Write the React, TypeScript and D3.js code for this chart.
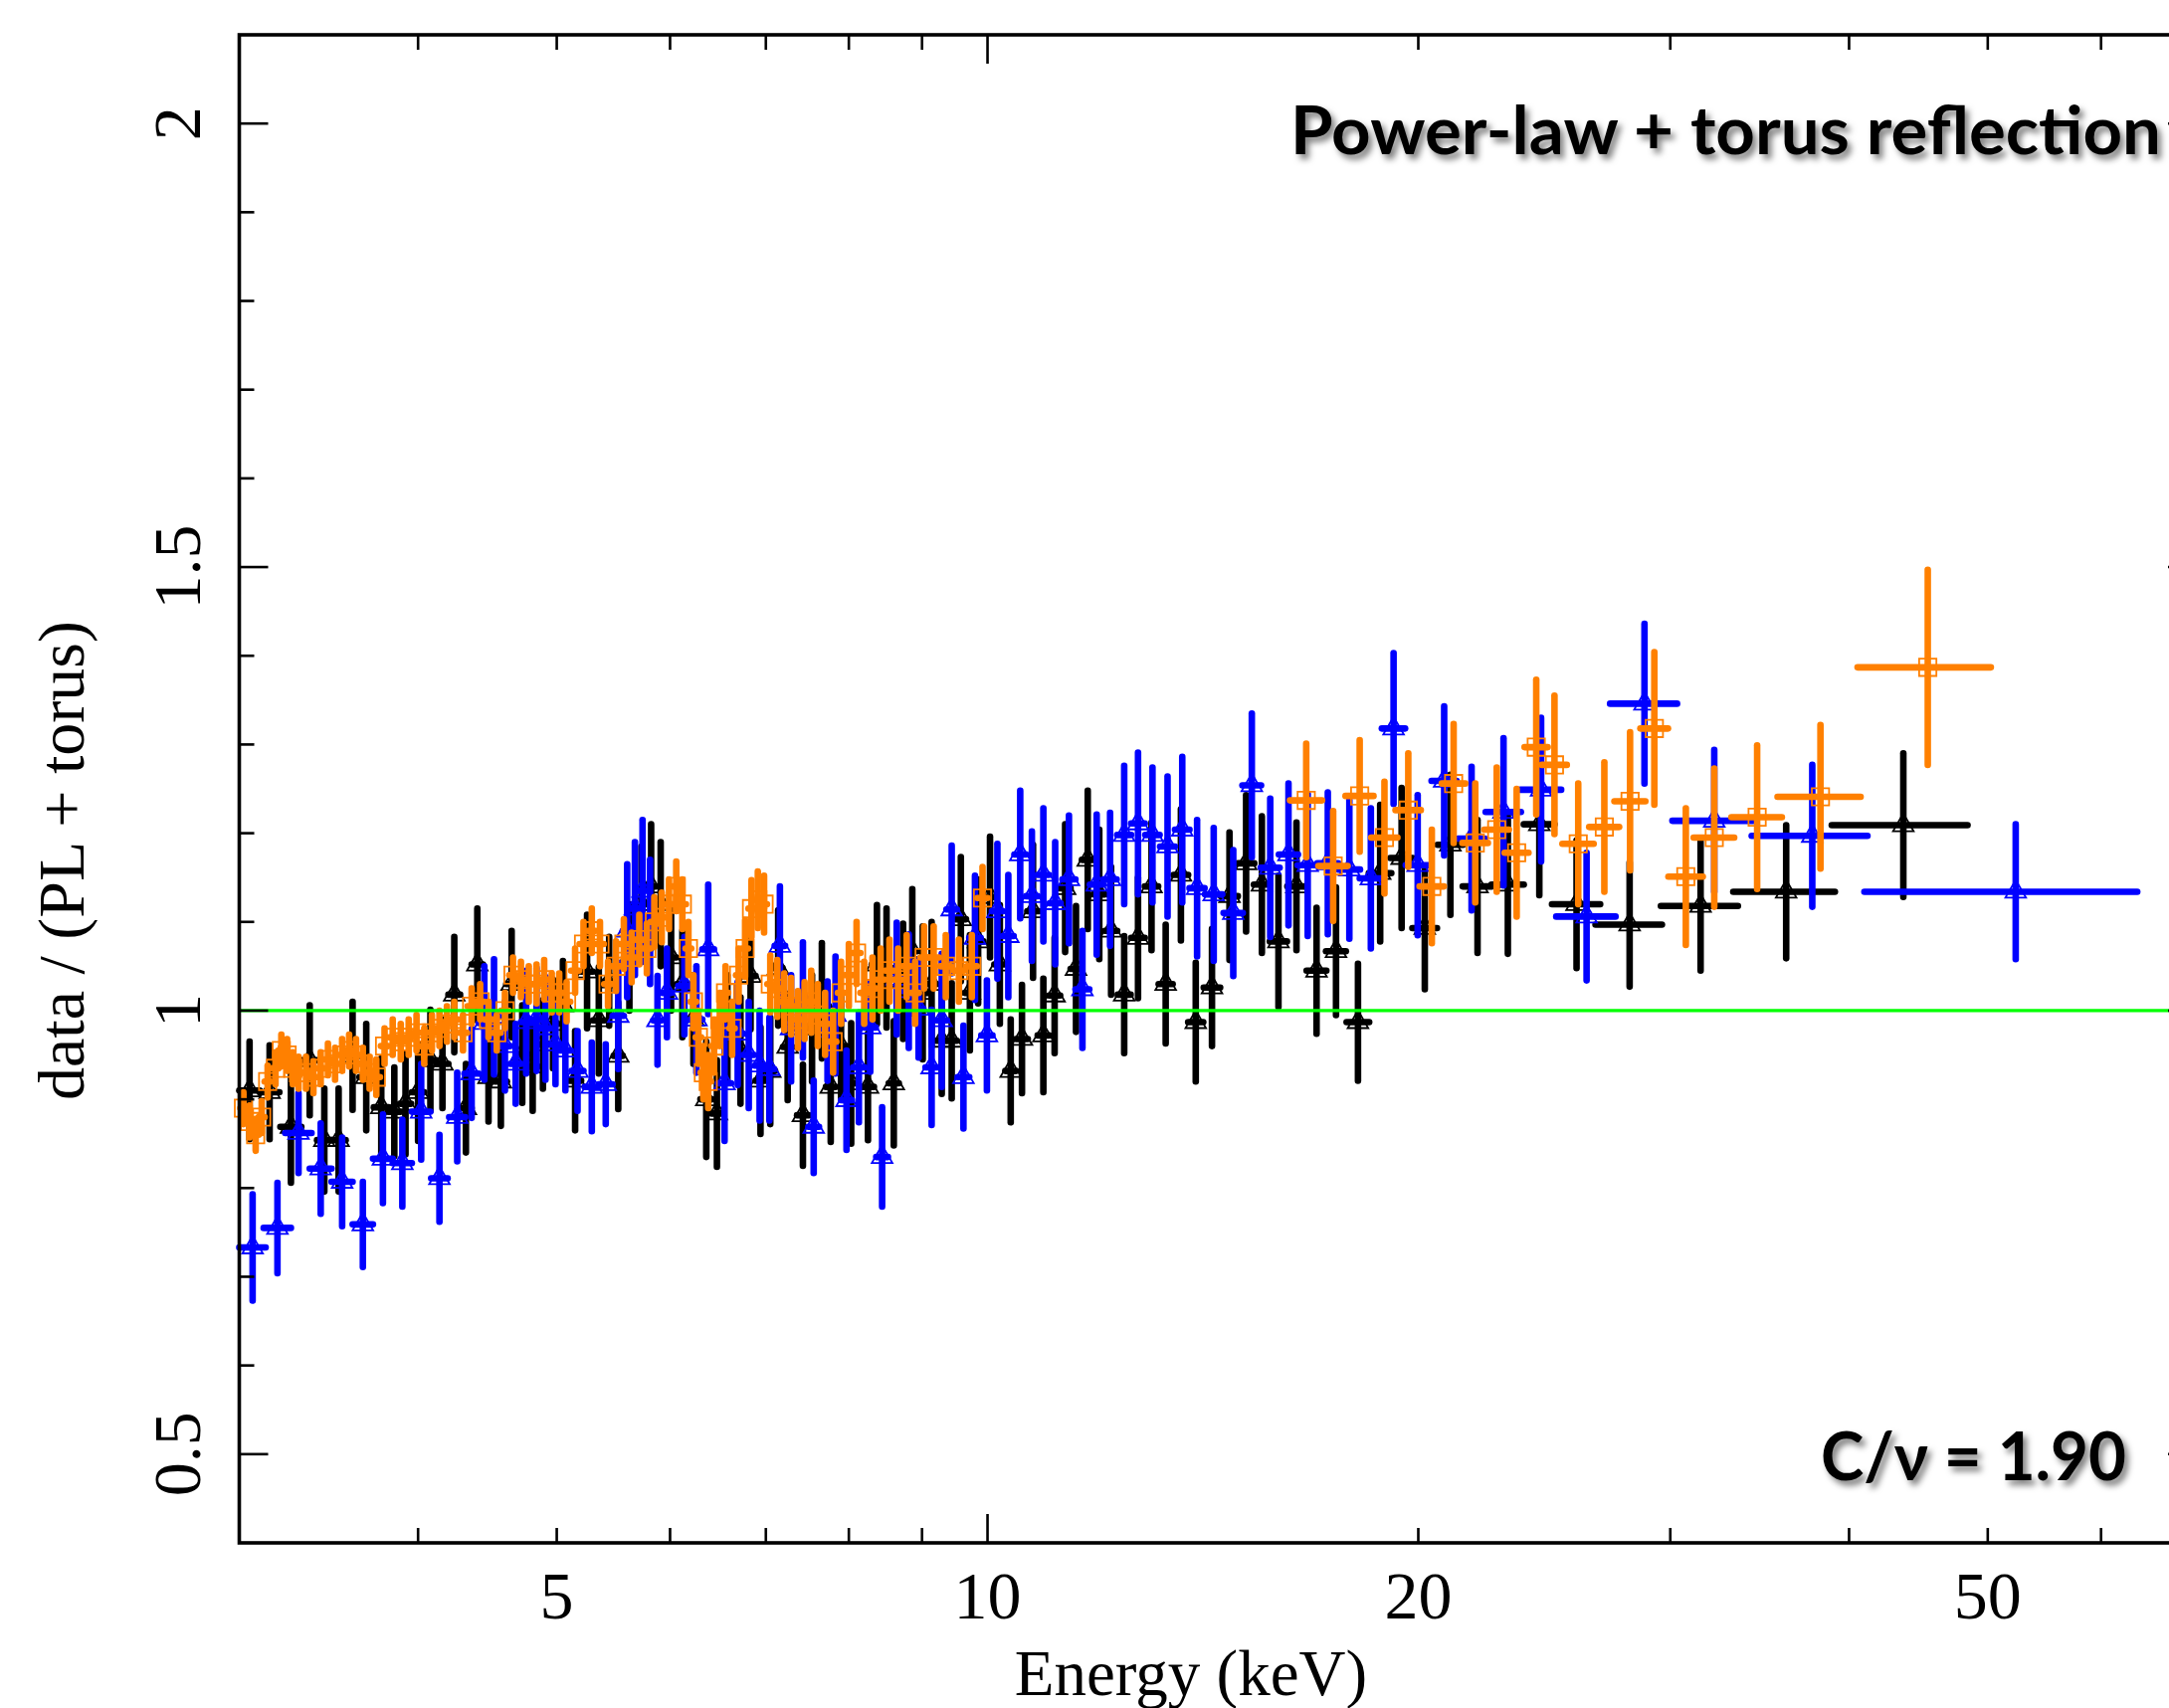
import React from "react";
import * as d3 from "d3";

// ---------------- axis definitions ----------------
const xDomain: [number, number] = [3, 70];
const yDomain: [number, number] = [0.4, 2.1];
const xMajorTicks = [10];
const xMinorTicks = [4, 5, 6, 7, 8, 9, 20, 30, 40, 50, 60];
const xTickLabels = [5, 10, 20, 50];
const yMajorTicks = [0.5, 1, 1.5, 2];
const yMinorTicks = [0.6, 0.7, 0.8, 0.9, 1.1, 1.2, 1.3, 1.4, 1.6, 1.7, 1.8, 1.9];
const yTickLabels = ["0.5", "1", "1.5", "2"];
const modelLevel = 1;

// ---------------- series: black (triangles) ----------------
const blackE = [
  3.05, 3.15, 3.26, 3.36, 3.44, 3.52, 3.6, 3.68, 3.77, 3.85,
  3.92, 4.0, 4.08, 4.16, 4.24, 4.32, 4.4, 4.48, 4.57, 4.65,
  4.73, 4.81, 4.89, 4.97, 5.05, 5.15, 5.25, 5.35, 5.44, 5.52,
  5.62, 5.73, 5.82, 5.91, 6.01, 6.12, 6.23, 6.36, 6.47, 6.58,
  6.72, 6.83, 6.94, 7.05, 7.14, 7.25, 7.43, 7.54, 7.66, 7.77,
  7.9, 8.03, 8.25, 8.37, 8.5, 8.6, 8.73, 8.86, 9.01, 9.14,
  9.29, 9.44, 9.58, 9.72, 9.85, 10.04, 10.2, 10.38, 10.57, 10.76,
  10.94, 11.14, 11.33, 11.53, 11.75, 11.97, 12.2, 12.46, 12.74, 13.02,
  13.32, 13.65, 13.98, 14.35, 14.76, 15.16, 15.55, 15.97, 16.44, 16.98,
  17.52, 18.15, 18.81, 19.47, 20.21, 21.06, 22.0, 23.1, 24.3, 25.8,
  28.1, 31.5, 36.15, 43.65,
];
const blackDE = [
  0.05, 0.05, 0.055, 0.045, 0.04, 0.04, 0.04, 0.04, 0.045, 0.04,
  0.035, 0.04, 0.04, 0.04, 0.04, 0.04, 0.04, 0.04, 0.045, 0.04,
  0.04, 0.04, 0.04, 0.04, 0.04, 0.05, 0.05, 0.05, 0.045, 0.04,
  0.05, 0.05, 0.045, 0.045, 0.05, 0.055, 0.055, 0.06, 0.055, 0.055,
  0.06, 0.055, 0.055, 0.055, 0.05, 0.055, 0.07, 0.06, 0.06, 0.06,
  0.065, 0.065, 0.08, 0.07, 0.07, 0.07, 0.07, 0.07, 0.08, 0.075,
  0.08, 0.08, 0.08, 0.08, 0.085, 0.09, 0.09, 0.09, 0.1, 0.1,
  0.1, 0.1, 0.1, 0.1, 0.11, 0.11, 0.12, 0.13, 0.14, 0.14,
  0.15, 0.16, 0.17, 0.19, 0.2, 0.2, 0.2, 0.22, 0.24, 0.27,
  0.28, 0.33, 0.34, 0.35, 0.4, 0.43, 0.52, 0.6, 0.6, 1.0,
  1.5, 1.95, 2.95, 4.75,
];
const blackRatio = [
  0.91, 0.908, 0.869, 0.944, 0.854, 0.854, 0.949, 0.925, 0.891, 0.886,
  0.895, 0.908, 0.944, 0.94, 1.018, 0.89, 1.052, 0.925, 0.92, 1.03,
  0.951, 0.937, 0.962, 0.985, 1.006, 0.921, 1.044, 0.989, 1.033, 0.949,
  1.06, 1.12, 1.14, 1.12, 1.06, 1.03, 0.99, 0.9, 0.884, 0.98,
  0.955, 1.039, 0.921, 0.932, 1.048, 0.959, 0.882, 0.98, 1.011, 0.914,
  0.96, 0.918, 0.914, 1.052, 1.048, 0.918, 1.033, 1.067, 1.02, 1.03,
  0.966, 0.966, 1.103, 1.02, 1.078, 1.128, 1.052, 0.932, 0.968, 1.112,
  0.972, 1.017, 1.138, 1.047, 1.17, 1.131, 1.09, 1.018, 1.082, 1.14,
  1.03, 1.153, 0.987, 1.026, 1.129, 1.166, 1.142, 1.078, 1.14, 1.045,
  1.067, 0.987, 1.155, 1.172, 1.093, 1.187, 1.14, 1.142, 1.21, 1.12,
  1.097, 1.118, 1.134, 1.209,
];
const blackErr = [
  0.055, 0.053, 0.063, 0.062, 0.058, 0.058, 0.061, 0.06, 0.055, 0.05,
  0.057, 0.055, 0.057, 0.05, 0.065, 0.05, 0.063, 0.05, 0.05, 0.06,
  0.055, 0.05, 0.05, 0.05, 0.05, 0.056, 0.064, 0.06, 0.05, 0.06,
  0.06, 0.065, 0.07, 0.07, 0.06, 0.06, 0.05, 0.065, 0.06, 0.06,
  0.06, 0.06, 0.06, 0.06, 0.065, 0.06, 0.057, 0.06, 0.065, 0.062,
  0.06, 0.068, 0.06, 0.067, 0.067, 0.07, 0.065, 0.07, 0.075, 0.07,
  0.06, 0.065, 0.07, 0.065, 0.07, 0.068, 0.067, 0.058, 0.061, 0.075,
  0.064, 0.065, 0.072, 0.071, 0.078, 0.073, 0.072, 0.066, 0.068, 0.072,
  0.067, 0.074, 0.067, 0.066, 0.072, 0.077, 0.077, 0.074, 0.072, 0.071,
  0.072, 0.066, 0.077, 0.079, 0.069, 0.079, 0.075, 0.078, 0.08, 0.072,
  0.07, 0.073, 0.075, 0.081,
];

// ---------------- series: blue (triangles) ----------------
const blueE = [
  3.065, 3.19, 3.3, 3.42, 3.54, 3.66, 3.78, 3.9, 4.02, 4.14,
  4.26, 4.36, 4.45, 4.52, 4.6, 4.68, 4.76, 4.84, 4.91, 4.99,
  5.07, 5.17, 5.29, 5.41, 5.52, 5.6, 5.67, 5.74, 5.81, 5.88,
  5.97, 6.14, 6.26, 6.38, 6.55, 6.69, 6.81, 6.93, 7.04, 7.16,
  7.29, 7.43, 7.56, 7.73, 7.83, 7.97, 8.13, 8.28, 8.44, 8.64,
  8.81, 8.95, 9.14, 9.29, 9.44, 9.62, 9.8, 9.99, 10.16, 10.34,
  10.54, 10.74, 10.94, 11.15, 11.4, 11.65, 11.92, 12.18, 12.46, 12.74,
  13.04, 13.36, 13.68, 14.01, 14.39, 14.85, 15.3, 15.76, 16.23, 16.74,
  17.29, 17.9, 18.53, 19.22, 19.98, 20.85, 21.79, 22.94, 24.37, 26.22,
  28.78, 32.2, 37.7, 52.3,
];
const blueDE = [
  0.065, 0.07, 0.07, 0.06, 0.06, 0.06, 0.06, 0.06, 0.06, 0.055,
  0.055, 0.05, 0.04, 0.04, 0.04, 0.04, 0.04, 0.04, 0.04, 0.04,
  0.045, 0.05, 0.06, 0.06, 0.05, 0.04, 0.04, 0.04, 0.04, 0.04,
  0.045, 0.06, 0.06, 0.06, 0.07, 0.06, 0.06, 0.055, 0.055, 0.06,
  0.065, 0.065, 0.065, 0.07, 0.05, 0.07, 0.075, 0.075, 0.08, 0.09,
  0.08, 0.07, 0.09, 0.08, 0.08, 0.09, 0.09, 0.09, 0.09, 0.09,
  0.1, 0.1, 0.1, 0.1, 0.12, 0.13, 0.13, 0.13, 0.14, 0.14,
  0.15, 0.16, 0.16, 0.17, 0.2, 0.23, 0.23, 0.24, 0.25, 0.27,
  0.29, 0.31, 0.33, 0.36, 0.38, 0.42, 0.47, 0.65, 0.8, 1.25,
  1.55, 2.1, 3.5, 11.3,
];
const blueRatio = [
  0.733, 0.755, 0.862, 0.822, 0.807, 0.759, 0.833, 0.828, 0.886, 0.811,
  0.88, 0.929, 0.986, 0.993, 0.96, 0.94, 0.987, 0.99, 0.98, 0.962,
  0.955, 0.932, 0.914, 0.917, 0.994, 1.09, 1.115, 1.135, 1.1, 0.989,
  1.02, 1.028, 0.99, 1.069, 0.918, 0.974, 0.95, 0.938, 0.934, 1.073,
  0.98, 1.012, 0.869, 0.977, 0.995, 0.899, 0.936, 0.981, 0.835, 1.036,
  1.022, 1.002, 0.936, 0.989, 1.114, 0.925, 1.082, 0.972, 1.112, 1.084,
  1.176, 1.129, 1.153, 1.121, 1.148, 1.024, 1.142, 1.148, 1.198, 1.211,
  1.198, 1.185, 1.204, 1.138, 1.131, 1.11, 1.254, 1.161, 1.176, 1.164,
  1.166, 1.159, 1.149, 1.318, 1.164, 1.259, 1.194, 1.224, 1.249, 1.106,
  1.346, 1.214, 1.197, 1.134,
];
const blueErr = [
  0.06, 0.051, 0.045, 0.051, 0.05, 0.048, 0.05, 0.049, 0.054, 0.049,
  0.05, 0.05, 0.064, 0.065, 0.05, 0.045, 0.058, 0.058, 0.058, 0.045,
  0.045, 0.045, 0.05, 0.045, 0.06, 0.075, 0.075, 0.08, 0.07, 0.05,
  0.05, 0.055, 0.06, 0.073, 0.065, 0.058, 0.06, 0.062, 0.058, 0.067,
  0.06, 0.065, 0.052, 0.056, 0.066, 0.056, 0.062, 0.05, 0.056, 0.063,
  0.064, 0.055, 0.065, 0.075, 0.072, 0.058, 0.07, 0.062, 0.076, 0.069,
  0.072, 0.073, 0.075, 0.069, 0.072, 0.066, 0.079, 0.075, 0.078, 0.08,
  0.076, 0.079, 0.082, 0.077, 0.075, 0.071, 0.081, 0.078, 0.08, 0.08,
  0.08, 0.078, 0.079, 0.085, 0.079, 0.084, 0.081, 0.083, 0.081, 0.072,
  0.09, 0.08, 0.08, 0.076,
];

// ---------------- series: orange (squares) ----------------
const orangeE = [
  3.02, 3.05, 3.08, 3.11, 3.14, 3.18, 3.21, 3.24, 3.27, 3.3,
  3.34, 3.38, 3.42, 3.46, 3.5, 3.54, 3.58, 3.62, 3.66, 3.7,
  3.74, 3.79, 3.84, 3.89, 3.94, 3.99, 4.04, 4.09, 4.14, 4.19,
  4.24, 4.3, 4.36, 4.42, 4.48, 4.54, 4.6, 4.66, 4.72, 4.78,
  4.84, 4.9, 4.96, 5.02, 5.08, 5.15, 5.22, 5.29, 5.36, 5.43,
  5.5, 5.57, 5.64, 5.71, 5.78, 5.85, 5.92, 5.99, 6.06, 6.12,
  6.18, 6.23, 6.28, 6.33, 6.38, 6.44, 6.5, 6.56, 6.63, 6.7,
  6.77, 6.84, 6.91, 6.98, 7.05, 7.13, 7.21, 7.29, 7.37, 7.45,
  7.53, 7.61, 7.7, 7.8, 7.9, 8.0, 8.1, 8.2, 8.31, 8.42,
  8.54, 8.66, 8.78, 8.9, 9.03, 9.17, 9.35, 9.55, 9.75, 9.92,
  16.7, 17.44, 18.2, 18.94, 19.68, 20.44, 21.17, 21.92, 22.69, 23.43,
  24.18, 24.9, 25.87, 26.98, 28.12, 29.24, 30.76, 32.2, 34.5, 38.2,
  45.4,
];
const orangeDE = [
  0.015, 0.015, 0.015, 0.015, 0.015, 0.015, 0.015, 0.015, 0.015, 0.015,
  0.02, 0.02, 0.02, 0.02, 0.02, 0.02, 0.02, 0.02, 0.02, 0.02,
  0.022, 0.022, 0.022, 0.022, 0.025, 0.025, 0.025, 0.025, 0.025, 0.025,
  0.028, 0.028, 0.028, 0.028, 0.028, 0.028, 0.028, 0.028, 0.028, 0.028,
  0.03, 0.03, 0.03, 0.03, 0.03, 0.033, 0.033, 0.033, 0.033, 0.033,
  0.035, 0.035, 0.035, 0.035, 0.035, 0.035, 0.035, 0.035, 0.035, 0.035,
  0.028, 0.028, 0.028, 0.028, 0.028, 0.028, 0.028, 0.028, 0.028, 0.028,
  0.033, 0.033, 0.033, 0.033, 0.033, 0.038, 0.038, 0.038, 0.038, 0.038,
  0.04, 0.04, 0.04, 0.04, 0.04, 0.05, 0.05, 0.05, 0.05, 0.05,
  0.055, 0.055, 0.055, 0.055, 0.055, 0.08, 0.08, 0.08, 0.08, 0.08,
  0.43, 0.41, 0.41, 0.4, 0.4, 0.4, 0.4, 0.45, 0.45, 0.45,
  0.45, 0.5, 0.65, 0.65, 0.7, 0.65, 0.85, 1.05, 1.4, 2.55,
  4.85,
];
const orangeRatio = [
  0.89, 0.875, 0.86, 0.88, 0.92, 0.935, 0.955, 0.95, 0.935, 0.93,
  0.93, 0.925, 0.935, 0.945, 0.94, 0.95, 0.955, 0.95, 0.94, 0.93,
  0.925, 0.96, 0.97, 0.965, 0.97, 0.975, 0.96, 0.975, 0.98, 0.985,
  0.99, 0.975, 1.005, 1.01, 0.99, 0.975, 1.0, 1.04, 1.035, 1.03,
  1.03, 1.035, 1.02, 1.02, 1.01, 1.045, 1.075, 1.09, 1.075, 1.03,
  1.05, 1.075, 1.06, 1.08, 1.07, 1.1, 1.105, 1.12, 1.14, 1.12,
  1.07, 1.01, 0.97, 0.93, 0.92, 0.96, 0.99, 1.02, 0.98, 1.04,
  1.07, 1.115, 1.125, 1.12, 1.03, 1.025, 1.01, 1.005, 0.99, 1.0,
  1.01, 0.995, 0.985, 0.965, 1.02, 1.04, 1.065, 1.02, 1.025, 1.035,
  1.045, 1.035, 1.05, 1.02, 1.06, 1.06, 1.05, 1.045, 1.05, 1.127,
  1.237, 1.163, 1.242, 1.195, 1.226, 1.14, 1.256, 1.189, 1.204, 1.178,
  1.297, 1.277, 1.188, 1.207, 1.236, 1.318, 1.151, 1.195, 1.218, 1.241,
  1.387,
];
const orangeErr = [
  0.018, 0.018, 0.018, 0.018, 0.018, 0.018, 0.018, 0.018, 0.018, 0.018,
  0.018, 0.018, 0.018, 0.018, 0.018, 0.018, 0.018, 0.018, 0.018, 0.018,
  0.02, 0.02, 0.02, 0.02, 0.02, 0.02, 0.02, 0.02, 0.02, 0.02,
  0.02, 0.02, 0.02, 0.02, 0.02, 0.02, 0.02, 0.02, 0.02, 0.02,
  0.022, 0.022, 0.022, 0.022, 0.022, 0.025, 0.025, 0.025, 0.025, 0.025,
  0.028, 0.028, 0.028, 0.028, 0.028, 0.028, 0.028, 0.028, 0.028, 0.028,
  0.03, 0.03, 0.03, 0.03, 0.03, 0.03, 0.03, 0.03, 0.03, 0.03,
  0.032, 0.032, 0.032, 0.032, 0.032, 0.032, 0.032, 0.032, 0.032, 0.032,
  0.035, 0.035, 0.035, 0.035, 0.035, 0.035, 0.035, 0.035, 0.035, 0.035,
  0.035, 0.035, 0.035, 0.035, 0.035, 0.035, 0.035, 0.035, 0.035, 0.035,
  0.064, 0.062, 0.063, 0.063, 0.064, 0.064, 0.067, 0.067, 0.07, 0.072,
  0.076, 0.078, 0.068, 0.073, 0.078, 0.086, 0.077, 0.078, 0.081, 0.081,
  0.11,
];

// ---------------- layout & style ----------------
const W = 2180;
const H = 1717;
const PL = 240.5;
const PR = 2208;
const PT = 35;
const PB = 1551;
const MAJOR = 29;
const MINOR = 15;
const BAR_W = 6.6;
const SERIF = "'Liberation Serif', 'Times New Roman', Times, serif";
const SANS = "Lato, 'Open Sans', 'Noto Sans', sans-serif";

type Series = {
  key: string;
  color: string;
  marker: "triangle" | "square";
  E: number[];
  dE: number[];
  r: number[];
  err: number[];
};

const seriesList: Series[] = [
  { key: "black", color: "#000000", marker: "triangle", E: blackE, dE: blackDE, r: blackRatio, err: blackErr },
  { key: "blue", color: "#0000ff", marker: "triangle", E: blueE, dE: blueDE, r: blueRatio, err: blueErr },
  { key: "orange", color: "#ff8000", marker: "square", E: orangeE, dE: orangeDE, r: orangeRatio, err: orangeErr },
];

export default function App() {
  const x = d3.scaleLog().domain(xDomain).range([PL, PR]);
  const y = d3.scaleLinear().domain(yDomain).range([PB, PT]);
  const triPath = d3.symbol(d3.symbolTriangle, 185)() as string;
  const sqPath = d3.symbol(d3.symbolSquare, 300)() as string;

  return (
    <svg
      width={W}
      height={H}
      viewBox={`0 0 ${W} ${H}`}
      style={{ position: "fixed", left: 0, top: 0, background: "#ffffff" }}
    >
      <defs>
        <filter id="txtShadow" x="-5%" y="-30%" width="115%" height="170%">
          <feDropShadow dx="4" dy="5" stdDeviation="3" floodColor="#000000" floodOpacity="0.5" />
        </filter>
      </defs>
      <rect x={0} y={0} width={W} height={H} fill="#ffffff" />

      {/* data */}
      {seriesList.map((s) => {
        const n = Math.min(s.E.length, s.dE.length, s.r.length, s.err.length);
        const idx = d3.range(n);
        return (
          <g key={s.key}>
            {idx.map((i) => {
              const cx = x(s.E[i]);
              const cy = y(s.r[i]);
              return (
                <g key={i}>
                  <line
                    x1={x(s.E[i] - s.dE[i])}
                    x2={x(s.E[i] + s.dE[i])}
                    y1={cy}
                    y2={cy}
                    stroke={s.color}
                    strokeWidth={BAR_W}
                    strokeLinecap="round"
                  />
                  <line
                    x1={cx}
                    x2={cx}
                    y1={y(s.r[i] - s.err[i])}
                    y2={y(s.r[i] + s.err[i])}
                    stroke={s.color}
                    strokeWidth={BAR_W}
                    strokeLinecap="round"
                  />
                  <path
                    d={s.marker === "triangle" ? triPath : sqPath}
                    transform={`translate(${cx},${cy})`}
                    fill="none"
                    stroke={s.color}
                    strokeWidth={1.8}
                  />
                </g>
              );
            })}
          </g>
        );
      })}

      {/* model line */}
      <line x1={PL} x2={PR} y1={y(modelLevel)} y2={y(modelLevel)} stroke="#00ff00" strokeWidth={3.3} />

      {/* ticks */}
      <g stroke="#000" strokeWidth={2.6}>
        {xMajorTicks.map((t) => (
          <g key={"xM" + t}>
            <line x1={x(t)} x2={x(t)} y1={PB} y2={PB - MAJOR} />
            <line x1={x(t)} x2={x(t)} y1={PT} y2={PT + MAJOR} />
          </g>
        ))}
        {xMinorTicks.map((t) => (
          <g key={"xm" + t}>
            <line x1={x(t)} x2={x(t)} y1={PB} y2={PB - MINOR} />
            <line x1={x(t)} x2={x(t)} y1={PT} y2={PT + MINOR} />
          </g>
        ))}
        {yMajorTicks.map((t) => (
          <g key={"yM" + t}>
            <line x1={PL} x2={PL + MAJOR} y1={y(t)} y2={y(t)} />
            <line x1={PR} x2={PR - MAJOR} y1={y(t)} y2={y(t)} />
          </g>
        ))}
        {yMinorTicks.map((t) => (
          <g key={"ym" + t}>
            <line x1={PL} x2={PL + MINOR} y1={y(t)} y2={y(t)} />
            <line x1={PR} x2={PR - MINOR} y1={y(t)} y2={y(t)} />
          </g>
        ))}
      </g>

      {/* frame */}
      <rect x={PL} y={PT} width={PR - PL} height={PB - PT} fill="none" stroke="#000" strokeWidth={3.6} />

      {/* tick labels */}
      <g fontFamily={SERIF} fontSize={68} fill="#000">
        {xTickLabels.map((t) => (
          <text key={"xl" + t} x={x(t)} y={1627} textAnchor="middle">
            {t}
          </text>
        ))}
        {yMajorTicks.map((t, i) => (
          <text
            key={"yl" + t}
            transform={`translate(201,${y(t)}) rotate(-90)`}
            textAnchor="middle"
          >
            {yTickLabels[i]}
          </text>
        ))}
      </g>

      {/* axis titles */}
      <text x={1197} y={1704} textAnchor="middle" fontFamily={SERIF} fontSize={65} fill="#000">
        Energy (keV)
      </text>
      <text
        transform={`translate(84,865) rotate(-90)`}
        textAnchor="middle"
        fontFamily={SERIF}
        fontSize={66}
        fill="#000"
      >
        data / (PL + torus)
      </text>

      {/* annotations */}
      <text
        x={1297}
        y={155}
        fontFamily={SANS}
        fontWeight={700}
        fontSize={66}
        textLength={875}
        lengthAdjust="spacingAndGlyphs"
        fill="#000"
        filter="url(#txtShadow)"
      >
        Power-law + torus reflection
      </text>
      <text
        x={1830}
        y={1488}
        fontFamily={SANS}
        fontWeight={700}
        fontSize={66}
        textLength={307}
        lengthAdjust="spacingAndGlyphs"
        fill="#000"
        filter="url(#txtShadow)"
      >
        C/ν = 1.90
      </text>
    </svg>
  );
}
